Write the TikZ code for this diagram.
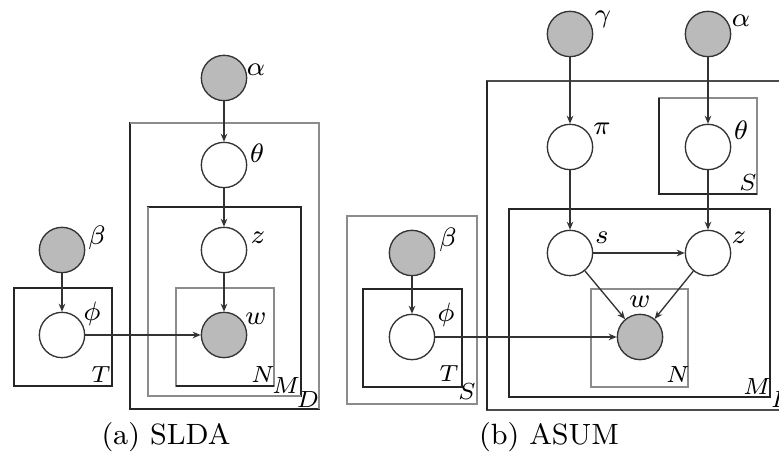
\documentclass[tikz,border=0pt]{standalone}
\usetikzlibrary{arrows.meta}
\begin{document}
\begin{tikzpicture}[x=0.3pt,y=-0.3pt,
  var/.style={circle,draw=black!80,line width=0.4pt,minimum size=13.6pt,inner sep=0pt,fill=white},
  obs/.style={var,fill=black!27},
  lbl/.style={inner sep=0pt,font=\fontsize{8.2}{9}\selectfont},
  plbl/.style={inner sep=0pt,font=\fontsize{6.6}{7}\selectfont},
  captxt/.style={inner sep=0pt,font=\fontsize{8.8}{10}\selectfont},
  conn/.style={draw=black!80,line width=0.4pt,-{Stealth[length=2.4pt,width=2pt]}},
  dplate/.style={draw=black!85,line width=0.45pt},
  gplate/.style={draw=black!45,line width=0.45pt}]
\useasboundingbox (0,0) rectangle (779,454);

% ---------- (a) SLDA ----------
\draw[dplate] (130,123) rectangle (319,409);
\draw[gplate] (130,123) -- (319,123) -- (319,409);
\draw[dplate] (148,207) rectangle (301,396);
\draw[gplate] (148,207) -- (148,396) -- (301,396);
\draw[gplate] (176,288) rectangle (274,386);
\draw[dplate] (176,386) -- (274,386);
\draw[dplate] (14,288) rectangle (112,386);

\node[obs] (a1) at (224,78) {};
\node[var] (th1) at (224,165) {};
\node[var] (z1) at (224,250) {};
\node[obs] (w1) at (224,335) {};
\node[obs] (b1) at (62,250) {};
\node[var] (p1) at (62,335) {};

\node[lbl] (la1) at (256,70) {$\alpha$};
\node[lbl] (lth1) at (257,153) {$\theta$};
\node[lbl] (lz1) at (258,238) {$z$};
\node[lbl] (lw1) at (256,319) {$w$};
\node[lbl] (lb1) at (97,238) {$\beta$};
\node[lbl] (lp1) at (92,314) {$\phi$};
\node[plbl] (lT1) at (101,375) {$T$};
\node[plbl] (lN1) at (263,375) {$N$};
\node[plbl] (lM1) at (286,386) {$M$};
\node[plbl] (lD1) at (308,400) {$D$};

\draw[conn] (a1) -- (th1);
\draw[conn] (th1) -- (z1);
\draw[conn] (z1) -- (w1);
\draw[conn] (b1) -- (p1);
\draw[conn] (p1) -- (w1);

\node[captxt] (c1) at (166,437) {(a) SLDA};

% ---------- (b) ASUM ----------
\draw[gplate] (347,216) rectangle (477,404);
\draw[dplate] (363,289) rectangle (462,387);
\draw[black!70,line width=0.45pt] (487,81) rectangle (790,410);
\draw[dplate] (487,81) -- (487,410);
\draw[gplate] (659,98) rectangle (757,194);
\draw[dplate] (659,98) -- (659,194) -- (757,194);
\draw[dplate] (509,209) rectangle (770,397);
\draw[gplate] (591,289) rectangle (688,387);

\node[obs] (g2) at (570,34) {};
\node[obs] (a2) at (708,34) {};
\node[var] (pi2) at (570,147) {};
\node[var] (th2) at (708,147) {};
\node[var] (s2) at (570,253) {};
\node[var] (z2) at (708,253) {};
\node[obs] (w2) at (640,337) {};
\node[obs] (b2) at (412,253) {};
\node[var] (p2) at (412,337) {};

\node[lbl] (lg2) at (603,19) {$\gamma$};
\node[lbl] (la2) at (741,21) {$\alpha$};
\node[lbl] (lpi2) at (602,129) {$\pi$};
\node[lbl] (lth2) at (741,130) {$\theta$};
\node[lbl] (ls2) at (602,238) {$s$};
\node[lbl] (lz2) at (739,238) {$z$};
\node[lbl] (lw2) at (640,302) {$w$};
\node[lbl] (lb2) at (448,240) {$\beta$};
\node[lbl] (lp2) at (446,315) {$\phi$};
\node[plbl] (lT2) at (449,374) {$T$};
\node[plbl] (lS2) at (467,392) {$S$};
\node[plbl] (lN2) at (678,375) {$N$};
\node[plbl] (lM2) at (757,387) {$M$};
\node[plbl] (lS3) at (748,183) {$S$};
\node[plbl] (lD2) at (782,400) {$D$};

\draw[conn] (g2) -- (pi2);
\draw[conn] (pi2) -- (s2);
\draw[conn] (a2) -- (th2);
\draw[conn] (th2) -- (z2);
\draw[conn] (s2) -- (z2);
\draw[conn] (s2) -- (w2);
\draw[conn] (z2) -- (w2);
\draw[conn] (b2) -- (p2);
\draw[conn] (p2) -- (w2);

\node[captxt] (c2) at (549,437) {(b) ASUM};
\end{tikzpicture}
\end{document}
